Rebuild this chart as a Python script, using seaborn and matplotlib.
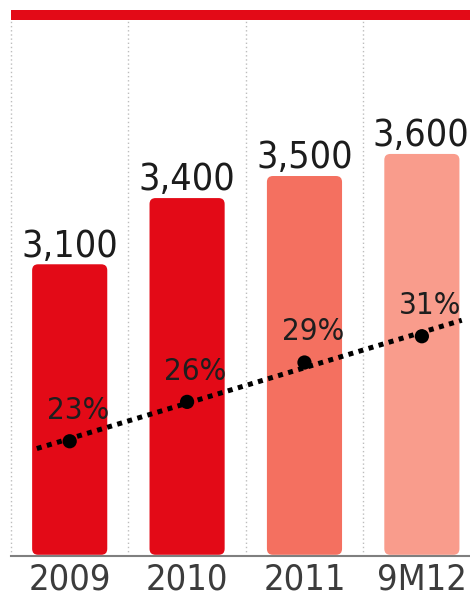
import matplotlib
matplotlib.use("Agg")
import matplotlib.pyplot as plt
import seaborn as sns
import numpy as np
import pandas as pd
from matplotlib.patches import FancyBboxPatch, Rectangle

# ---- data ----
categories = ["2009", "2010", "2011", "9M12"]
values = [3100, 3400, 3500, 3600]
value_labels = ["3,100", "3,400", "3,500", "3,600"]
shares = [23, 26, 29, 31]
share_labels = ["23%", "26%", "29%", "31%"]
bar_colors = ["#E30A17", "#E30A17", "#F47060", "#F99C8C"]

sns.set_style("white")
plt.rcParams["font.family"] = ["DejaVu Sans"]
plt.rcParams["font.stretch"] = "condensed"

W, H = 470, 601
fig = plt.figure(figsize=(W / 100, H / 100), dpi=100)
ax = fig.add_axes([11 / W, 45 / H, 459 / W, 536 / H])

df = pd.DataFrame({"cat": categories, "val": values})
sns.barplot(data=df, x="cat", y="val", hue="cat", palette=bar_colors,
            width=0.64, legend=False, ax=ax, saturation=1)

ylo, yhi = 1778, 4207
xlo, xhi = -0.5, 3.41
ax.set_ylim(ylo, yhi)
ax.set_xlim(xlo, xhi)

y_per_px = (yhi - ylo) / 536
x_per_px = (xhi - xlo) / 459
aspect = y_per_px / x_per_px
ybot = ylo + 1.2 * y_per_px
for p in list(ax.patches):
    x0, w, top = p.get_x(), p.get_width(), p.get_height()
    fc = p.get_facecolor()
    p.remove()
    fb = FancyBboxPatch((x0, ybot), w, top - ybot,
                        boxstyle="round,pad=0,rounding_size=%f" % (6 * x_per_px),
                        mutation_aspect=aspect, fc=fc, ec="none", zorder=2)
    ax.add_patch(fb)

for xv in [-0.5, 0.5, 1.5, 2.5]:
    ax.axvline(xv, color="#bdbdbd", lw=1, linestyle=(0, (1, 2)), zorder=0, clip_on=False)

for i, (v, lab) in enumerate(zip(values, value_labels)):
    ax.annotate(lab, (i, v), xytext=(-1 if i == 3 else 0, 5.5), textcoords="offset points",
                ha="center", va="baseline", fontsize=27, color="#1c1c1c",
                fontstretch="condensed")

for s in ["top", "left", "right"]:
    ax.spines[s].set_visible(False)
ax.spines["bottom"].set_color("#7f7f7f")
ax.spines["bottom"].set_linewidth(1.5)
ax.set_yticks([])
ax.set_xlabel("")
ax.set_ylabel("")
ax.set_xticks(range(len(categories)))
ax.set_xticklabels(categories, fontsize=26, color="#3c3c3c", fontstretch="condensed")
ax.tick_params(axis="x", length=0, pad=5)

ax2 = ax.twinx()
ax2.set_ylim(14.26, 55.09)
xs_idx = np.arange(len(shares))
coef = np.polyfit(xs_idx, shares, 1)
xt = np.array([-0.28, 3.34])
ax2.plot(xt, np.polyval(coef, xt), color="black", lw=3.6,
         linestyle=(0, (1, 1.1)), dash_capstyle="butt", zorder=3)
sns.scatterplot(x=xs_idx, y=shares, ax=ax2, s=105, color="black",
                edgecolor="none", zorder=4, legend=False)
for i, (v, lab) in enumerate(zip(shares, share_labels)):
    ax2.annotate(lab, (i, v), xytext=(6, 16), textcoords="offset points",
                 ha="center", va="baseline", fontsize=22.5, color="#1e1e1e",
                 fontstretch="condensed")
ax2.set_yticks([])
ax2.set_ylabel("")
for s in ax2.spines.values():
    s.set_visible(False)
ax2.set_xlim(xlo, xhi)

fig.add_artist(Rectangle((11 / W, (H - 20) / H), 459 / W, 10 / H,
                         transform=fig.transFigure, color="#E30A17", lw=0))

fig.savefig("out.png", dpi=100)
